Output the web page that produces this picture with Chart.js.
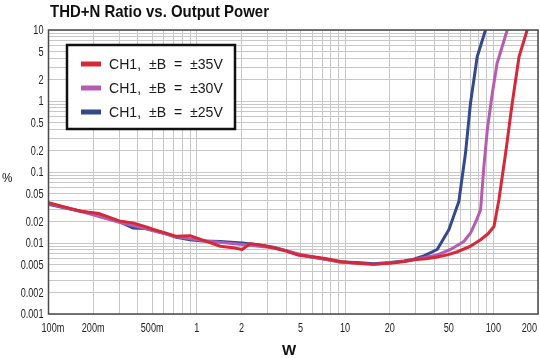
<!DOCTYPE html>
<html>
<head>
<meta charset="utf-8">
<script src="https://cdn.jsdelivr.net/npm/chart.js@4.4.1/dist/chart.umd.min.js"></script>
<style>
  html, body { margin: 0; padding: 0; background: #fff; }
  #wrap { width: 540px; height: 358px; position: relative; }
</style>
</head>
<body>
<div id="wrap"><canvas id="thdChart"></canvas></div>
<script>
// output power (W) and THD+N (%)
const power35 = [0.1, 0.13, 0.165, 0.22, 0.3, 0.37, 0.45, 0.51, 0.62, 0.73, 0.9, 1.1, 1.44, 1.75, 2.02, 2.3, 2.8, 3.3, 4.0, 4.9, 5.8, 7.5, 9.3, 12, 15.6, 20, 25, 29, 35, 41, 49, 58, 70, 82, 92, 101, 109, 121, 134, 149, 169];
const thd35 = [0.037, 0.032, 0.028, 0.026, 0.0205, 0.0192, 0.017, 0.0155, 0.0138, 0.0124, 0.0127, 0.011, 0.009, 0.0086, 0.0081, 0.0098, 0.0092, 0.0085, 0.0077, 0.0067, 0.0065, 0.006, 0.0055, 0.0052, 0.005, 0.0052, 0.0055, 0.0058, 0.006, 0.0063, 0.0068, 0.0076, 0.009, 0.0111, 0.0135, 0.0171, 0.0407, 0.185, 0.93, 4.2, 10];

const power30 = [0.1, 0.165, 0.3, 0.45, 0.73, 1.1, 2.02, 3.3, 5.8, 9.3, 15.6, 25, 34, 41.8, 51.4, 63.2, 70.1, 77, 82, 86.3, 91, 98.4, 106, 124];
const thd30 = [0.036, 0.028, 0.0195, 0.016, 0.0122, 0.0108, 0.0095, 0.0086, 0.0064, 0.0054, 0.005, 0.0055, 0.0062, 0.0068, 0.0081, 0.0105, 0.0138, 0.021, 0.0294, 0.119, 0.39, 1.29, 3.4, 10];

const power25 = [0.1, 0.13, 0.165, 0.22, 0.3, 0.37, 0.45, 0.51, 0.62, 0.73, 0.9, 1.1, 1.44, 2.02, 2.5, 3.3, 4.0, 4.9, 5.8, 7.5, 9.3, 12, 15.6, 20, 25, 29, 34, 41.8, 50.1, 58.5, 64.9, 70.1, 77.8, 88.5];
const thd25 = [0.035, 0.031, 0.028, 0.025, 0.02, 0.0163, 0.016, 0.015, 0.0135, 0.012, 0.0111, 0.0107, 0.0105, 0.0100, 0.0095, 0.0087, 0.0078, 0.0068, 0.0064, 0.0059, 0.0054, 0.0053, 0.0051, 0.0053, 0.0056, 0.0059, 0.0066, 0.0081, 0.0154, 0.0385, 0.185, 0.93, 4.2, 10];

const seriesLabels = ['CH1,  \u00b1B  =  \u00b135V', 'CH1,  \u00b1B  =  \u00b130V', 'CH1,  \u00b1B  =  \u00b125V'];
const seriesColors = ['#d52838', '#b65bb0', '#33498c'];

const xTickValues = [0.1, 0.2, 0.5, 1, 2, 5, 10, 20, 50, 100, 200];
const xTickLabels = ['100m', '200m', '500m', '1', '2', '5', '10', '20', '50', '100', '200'];
const yTickValues = [0.001, 0.002, 0.005, 0.01, 0.02, 0.05, 0.1, 0.2, 0.5, 1, 2, 5, 10];
const yTickLabels = ['0.001', '0.002', '0.005', '0.01', '0.02', '0.05', '0.1', '0.2', '0.5', '1', '2', '5', '10'];

const FONT = "'Liberation Sans', Arial, sans-serif";

// gridlines at 1..9 of every decade between min and max
function logGrid(min, max) {
    const out = [];
    for (let e = Math.floor(Math.log10(min)); e <= Math.ceil(Math.log10(max)); e++) {
        for (let s = 1; s <= 9; s++) {
            const v = s * Math.pow(10, e);
            if (v >= min * 0.999 && v <= max * 1.001) out.push(v);
        }
    }
    return out;
}

// condensed look: squeeze the text horizontally
function narrowText(ctx, text, x, y, sx, align) {
    ctx.save();
    ctx.translate(x, y);
    ctx.scale(sx, 1);
    ctx.textAlign = align;
    ctx.fillText(text, 0, 0);
    ctx.restore();
}

const toPoints = (xs, ys) => xs.map((x, i) => ({ x: x, y: ys[i] }));

const framePlugin = {
    id: 'frame',
    afterDatasetsDraw(chart) {
        const { ctx, chartArea: a } = chart;
        ctx.save();
        ctx.strokeStyle = '#4a4a4a';
        ctx.lineWidth = 1.5;
        ctx.strokeRect(a.left, a.top, a.right - a.left, a.bottom - a.top);

        // legend box
        const bx = 67, by = 45, bw = 168, bh = 84;
        ctx.fillStyle = '#fff';
        ctx.fillRect(bx, by, bw, bh);
        ctx.strokeStyle = '#111';
        ctx.lineWidth = 2.5;
        ctx.strokeRect(bx, by, bw, bh);
        ctx.font = '15px ' + FONT;
        ctx.textBaseline = 'middle';
        chart.data.datasets.forEach((ds, i) => {
            const cy = 64 + i * 24;
            ctx.fillStyle = ds.borderColor;
            ctx.fillRect(81, cy - 2.5, 20, 5);
            ctx.fillStyle = '#1a1a1a';
            narrowText(ctx, ds.label, 109, cy + 1, 0.94, 'left');
        });
        ctx.restore();
    },
    afterDraw(chart) {
        const { ctx, chartArea: a } = chart;
        const xs = chart.scales.x, ys = chart.scales.y;
        ctx.save();
        ctx.fillStyle = '#222';
        ctx.textBaseline = 'middle';
        ctx.font = '12px ' + FONT;
        xTickValues.forEach((v, i) => {
            const px = xs.getPixelForValue(v);
            if (i === 0) narrowText(ctx, xTickLabels[i], px - 7, 329, 0.76, 'left');
            else if (i === xTickValues.length - 1) narrowText(ctx, xTickLabels[i], px - 1, 329, 0.76, 'right');
            else narrowText(ctx, xTickLabels[i], px, 329, 0.76, 'center');
        });
        yTickValues.forEach((v, i) => {
            narrowText(ctx, yTickLabels[i], a.left - 5, ys.getPixelForValue(v) + 1, 0.76, 'right');
        });

        ctx.fillStyle = '#111';
        ctx.font = 'bold 17px ' + FONT;
        narrowText(ctx, 'THD+N Ratio vs. Output Power', 50, 12, 0.88, 'left');
        ctx.font = '13px ' + FONT;
        narrowText(ctx, '%', 2, 178, 0.9, 'left');
        ctx.font = 'bold 15px ' + FONT;
        narrowText(ctx, 'W', 289, 351, 1, 'center');
        ctx.restore();
    }
};

new Chart(document.getElementById('thdChart'), {
    type: 'line',
    data: {
        datasets: [
            { label: seriesLabels[0], data: toPoints(power35, thd35), borderColor: seriesColors[0] },
            { label: seriesLabels[1], data: toPoints(power30, thd30), borderColor: seriesColors[1] },
            { label: seriesLabels[2], data: toPoints(power25, thd25), borderColor: seriesColors[2] }
        ]
    },
    options: {
        responsive: true,
        maintainAspectRatio: false,
        devicePixelRatio: 1,
        animation: false,
        layout: { padding: { top: 30, right: 2, left: 0, bottom: 0 } },
        elements: {
            line: { borderWidth: 3, tension: 0, borderCapStyle: 'round', borderJoinStyle: 'round' },
            point: { radius: 0 }
        },
        plugins: { legend: { display: false }, tooltip: { enabled: false }, title: { display: false } },
        scales: {
            x: {
                type: 'logarithmic',
                min: 0.1,
                max: 200,
                afterBuildTicks: s => { s.ticks = logGrid(0.1, 200).map(v => ({ value: v })); },
                afterFit: s => { s.height = 44; },
                border: { display: false },
                grid: { color: '#c8c8c8', lineWidth: 1, drawTicks: false },
                ticks: { display: false }
            },
            y: {
                type: 'logarithmic',
                min: 0.001,
                max: 10,
                afterBuildTicks: s => { s.ticks = logGrid(0.001, 10).map(v => ({ value: v })); },
                afterFit: s => { s.width = 48.5; },
                border: { display: false },
                grid: { color: '#c8c8c8', lineWidth: 1, drawTicks: false },
                ticks: { display: false }
            }
        }
    },
    plugins: [framePlugin]
});
</script>
</body>
</html>
